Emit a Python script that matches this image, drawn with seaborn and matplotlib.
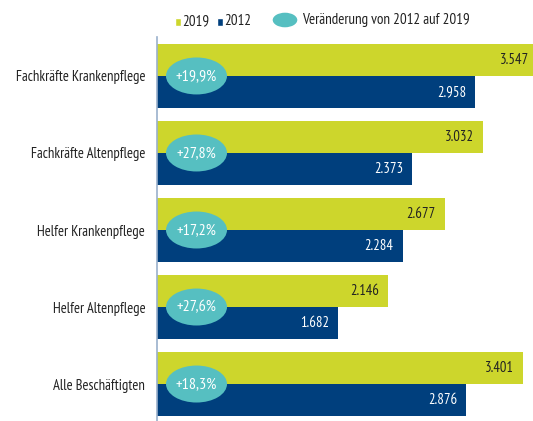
import numpy as np
import pandas as pd
import matplotlib
matplotlib.use("Agg")
import matplotlib.pyplot as plt
from matplotlib.patches import Ellipse, Rectangle
import seaborn as sns

# data
categories = ["Fachkräfte Krankenpflege", "Fachkräfte Altenpflege", "Helfer Krankenpflege",
              "Helfer Altenpflege", "Alle Beschäftigten"]
years = ["2019", "2012"]
values_2019 = [3547, 3032, 2677, 2146, 3401]
values_2012 = [2958, 2373, 2284, 1682, 2876]
changes = ["+19,9%", "+27,8%", "+17,2%", "+27,6%", "+18,3%"]

YELLOW = "#CDD62C"
BLUE = "#003F7D"
TEAL = "#56BFC1"
TEXT = "#222222"

df = pd.DataFrame({
    "Kategorie": categories * 2,
    "Jahr": [years[0]] * len(categories) + [years[1]] * len(categories),
    "Wert": values_2019 + values_2012,
})

sns.set_style("white")
plt.rcParams["font.family"] = ["PT Sans Narrow", "DejaVu Sans"]

W, H = 533, 421
fig = plt.figure(figsize=(W / 100, H / 100), dpi=100)
ax = fig.add_axes([157 / W, 0, (W - 157) / W, (H - 37) / H])

sns.barplot(data=df, y="Kategorie", x="Wert", hue="Jahr", hue_order=years,
            palette=[YELLOW, BLUE], saturation=1, orient="h", width=0.83,
            linewidth=0, legend=False, ax=ax)

ax.set_xlim(0, 3498)
ax.set_ylim(4.48, -0.506)
ax.set_xlabel("")
ax.set_ylabel("")
ax.set_xticks([])
ax.tick_params(axis="y", length=0, pad=8.5, labelsize=10.5, labelcolor=TEXT)
for side in ["top", "right", "bottom"]:
    ax.spines[side].set_visible(False)
ax.spines["left"].set_color("#9AB0CC")
ax.spines["left"].set_linewidth(1.2)

# value labels inside the bar ends
label_colors = [TEXT, "white"]
for cont, col in zip(ax.containers, label_colors):
    for bar in cont:
        v = bar.get_width()
        yc = bar.get_y() + bar.get_height() / 2
        ax.annotate(f"{int(round(v)):,}".replace(",", "."), xy=(v, yc),
                    xytext=(-6.5, 0), textcoords="offset points",
                    ha="right", va="center", fontsize=10.5, color=col,
                    annotation_clip=False)

# change ellipses between the two bars
px_x = 3498 / (W - 157)
for i, txt in enumerate(changes):
    e = Ellipse((39.5 * px_x, i), width=61 * px_x, height=0.48,
                facecolor=TEAL, edgecolor="none", zorder=5)
    ax.add_patch(e)
    ax.text(39.5 * px_x, i, txt, ha="center", va="center", fontsize=11.5,
            color="white", zorder=6)

# legend drawn in figure pixels
def fx(x):
    return x / W

def fy(y):
    return 1 - y / H

fig.patches.append(Rectangle((fx(175), fy(26)), 6 / W, 8 / H, facecolor=YELLOW,
                             transform=fig.transFigure, figure=fig))
fig.text(fx(182), fy(21), "2019", ha="left", va="center", fontsize=10.8, color=TEXT)
fig.patches.append(Rectangle((fx(217), fy(26)), 6 / W, 8 / H, facecolor=BLUE,
                             transform=fig.transFigure, figure=fig))
fig.text(fx(224), fy(21), "2012", ha="left", va="center", fontsize=10.8, color=TEXT)
fig.patches.append(Ellipse((fx(285), fy(20)), 26 / W, 16 / H, facecolor=TEAL,
                           transform=fig.transFigure, figure=fig))
fig.text(fx(302), fy(20), "Veränderung von 2012 auf 2019", ha="left", va="center",
         fontsize=10.8, color=TEXT)

fig.savefig("out.png", dpi=100)
